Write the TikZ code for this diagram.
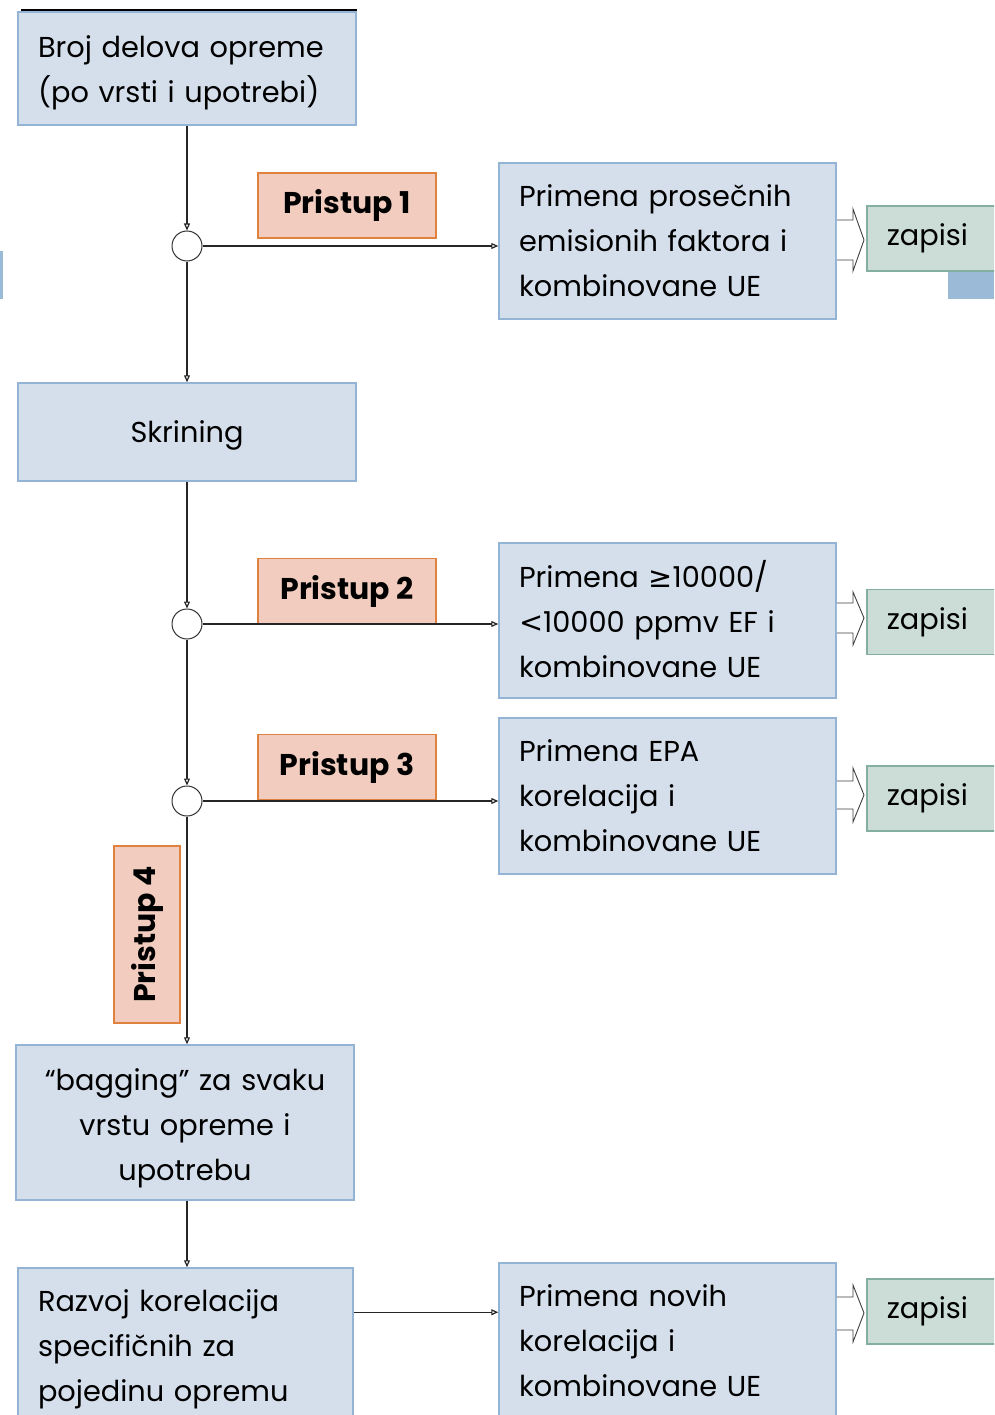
\documentclass[tikz,border=0pt]{standalone}
\usepackage{fontspec}
\setmainfont{Poppins}
\newfontfamily\symf{DejaVu Sans}
\usetikzlibrary{arrows.meta,calc}
\definecolor{boxfill}{HTML}{D5DFEB}
\definecolor{boxline}{HTML}{94B4D6}
\definecolor{prfill}{HTML}{F2CDBF}
\definecolor{prline}{HTML}{E0823F}
\definecolor{zfill}{HTML}{CBDDD6}
\definecolor{zline}{HTML}{84AE9E}
\definecolor{barcol}{HTML}{9BBAD8}
\newcommand\topstrut[1]{\rule{0pt}{#1}}
\newcommand\botstrut[1]{\rule[-#1]{0pt}{#1}}
\begin{document}
\begin{tikzpicture}[x=1pt,y=-1pt,
  box/.style={draw=boxline, fill=boxfill, line width=1.5pt, rectangle, inner ysep=0pt, inner xsep=20pt,
    font=\fontsize{28.8}{45}\selectfont, align=left},
  prbox/.style={draw=prline, fill=prfill, line width=1.5pt, rectangle, inner sep=0pt,
    minimum width=178pt, minimum height=65pt, font=\fontsize{30}{32}\selectfont\bfseries},
  zbox/.style={draw=zline, fill=zfill, line width=1.5pt, rectangle, inner xsep=20pt, inner ysep=0pt,
    minimum width=150pt, minimum height=65pt, anchor=west, align=left, text width=110pt,
    font=\fontsize{28.8}{32}\selectfont},
  junc/.style={circle, draw=black!80, line width=1pt, fill=white, minimum size=30pt, inner sep=0pt},
  conn/.style={draw=black!85, line width=1.2pt, -{Triangle[open, length=7pt, width=6pt]}},
  blockarr/.style={draw=black!75, line width=0.9pt, fill=white, line join=miter},
]
\clip (0,0) rectangle (994,1415);
\fill[white] (0,0) rectangle (994,1415);
% decorative slide remnants
\fill[barcol] (0,251) rectangle (3,299);
\fill[barcol] (948,271) rectangle (994,299);

% left column boxes
\node[box, minimum width=338pt, minimum height=113pt, text width=298pt] (b1) at (187,68.5)
  {\topstrut{31pt}Broj delova opreme\\(po vrsti i upotrebi)};
\draw[black, line width=1.5pt] (b1.north west) ++(4,-1) coordinate (t1) -- (t1 -| b1.north east);
\node[box, minimum width=338pt, minimum height=98pt, align=center] (skr) at (187,432) {\topstrut{29pt}Skrining};
\node[box, minimum width=338pt, minimum height=155pt, text width=298pt, align=center] (bag) at (185,1122.5)
  {\topstrut{33pt}“bagging” za svaku\\vrstu opreme i\\upotrebu};
\node[box, minimum width=335pt, minimum height=156pt, text width=295pt] (raz) at (185.5,1346)
  {\topstrut{29pt}Razvoj korelacija\\specifičnih za\\pojedinu opremu};

% right column boxes
\node[box, minimum width=337pt, minimum height=156pt, text width=297pt] (p1) at (667.5,241)
  {Primena prosečnih\\emisionih faktora i\\kombinovane UE};
\node[box, minimum width=337pt, minimum height=155pt, text width=297pt] (p2) at (667.5,620.5)
  {Primena {\symf ≥}10000/\\{\symf <}10000 ppmv EF i\\kombinovane UE\botstrut{4pt}};
\node[box, minimum width=337pt, minimum height=156pt, text width=297pt] (p3) at (667.5,796)
  {Primena EPA\\korelacija i\\kombinovane UE};
\node[box, minimum width=337pt, minimum height=156pt, text width=297pt] (p4) at (667.5,1341)
  {Primena novih\\korelacija i\\kombinovane UE};

% zapisi boxes
\node[zbox] (z1) at (866,238.5) {zapisi};
\node[zbox] (z2) at (866,622) {zapisi};
\node[zbox] (z3) at (866,798.5) {zapisi};
\node[zbox] (z4) at (866,1311.5) {zapisi};

% block arrows
\draw[blockarr] (p1.east |- 0,220) -- (853,220) -- (853,209) -- (864,240) -- (853,271) -- (853,260) -- (p1.east |- 0,260);
\draw[blockarr] (p2.east |- 0,603) -- (853,603) -- (853,592) -- (864,618) -- (853,645) -- (853,633) -- (p2.east |- 0,633);
\draw[blockarr] (p3.east |- 0,781) -- (853,781) -- (853,768) -- (864,795) -- (853,822) -- (853,809) -- (p3.east |- 0,809);
\draw[blockarr] (p4.east |- 0,1297) -- (853,1297) -- (853,1285) -- (864,1313) -- (853,1342) -- (853,1330) -- (p4.east |- 0,1330);

% Pristup labels
\node[prbox] (pr1) at (347,205.5) {Pristup 1};
\node[prbox] (pr2) at (347,591) {Pristup 2};
\node[prbox] (pr3) at (347,767) {Pristup 3};
\node[prbox, minimum width=177pt, minimum height=66pt, rotate=90] (pr4) at (147,934.5) {Pristup 4};

% junctions
\node[junc] (c1) at (187,246) {};
\node[junc] (c2) at (187,624) {};
\node[junc] (c3) at (187,801) {};

% connectors
\draw[conn] (b1.south -| c1) -- (c1.north);
\draw[conn] (c1.east) -- (p1.west |- c1);
\draw[conn] (c1.south) -- (skr.north -| c1);
\draw[conn] (skr.south -| c1) -- (c2.north);
\draw[conn] (c2.east) -- (p2.west |- c2);
\draw[conn] (c2.south) -- (c3.north);
\draw[conn] (c3.east) -- (p3.west |- c3);
\draw[conn] (c3.south) -- (bag.north -| c3);
\draw[conn] (bag.south -| c3) -- (raz.north -| c3);
\coordinate (r4) at ([yshift=-45pt]raz.north east);
\draw[conn] (r4) -- (r4 -| p4.west);
\end{tikzpicture}
\end{document}
